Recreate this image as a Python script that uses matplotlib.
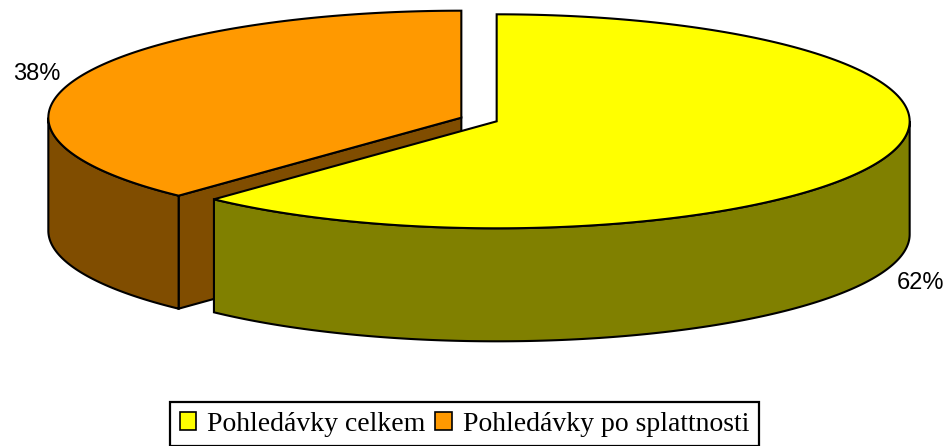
import numpy as np
import matplotlib.pyplot as plt
from matplotlib.patches import Polygon, Patch

# data
labels = ['Pohledávky celkem', 'Pohledávky po splattnosti']
values = [62, 38]
pct_labels = ['62%', '38%']
top_colors = ['#FFFF00', '#FF9900']
side_colors = ['#808000', '#804D00']

# 3D pie geometry (pixel space of the figure)
W, H = 944, 446
CX, CY = 479.0, 119.5
A, B = 413.0, 107.0
DEPTH = 113.0
EXPLODE = 0.046


def pt(cx, cy, theta, r=1.0, dz=0.0):
    # theta in degrees, clockwise from 12 o'clock
    t = np.deg2rad(theta)
    return cx + A * r * np.sin(t), cy - B * r * np.cos(t) + dz


def arc(cx, cy, t1, t2, dz=0.0, n=200):
    th = np.linspace(t1, t2, n)
    x, y = pt(cx, cy, th, dz=dz)
    return np.column_stack([x, y])


fig = plt.figure(figsize=(W / 100, H / 100), dpi=100)
ax = fig.add_axes([0, 0, 1, 1])
ax.set_xlim(0, W)
ax.set_ylim(H, 0)
ax.axis('off')

total = float(sum(values))
starts = np.concatenate([[0], np.cumsum(values)[:-1]]) / total * 360
ends = np.cumsum(values) / total * 360
mids = (starts + ends) / 2

centers = []
for m in mids:
    t = np.deg2rad(m)
    centers.append((CX + EXPLODE * A * np.sin(t), CY - EXPLODE * B * np.cos(t)))

lw = 1.5
# draw back slice (orange) first, then the yellow one in front
for i in [1, 0]:
    cx, cy = centers[i]
    s, e = starts[i], ends[i]
    # radial cut face at the start angle (faces the viewer when on the left)
    if i == 1:
        p0 = (cx, cy)
        p1 = pt(cx, cy, s)
        face = [p0, p1, (p1[0], p1[1] + DEPTH), (cx, cy + DEPTH)]
        ax.add_patch(Polygon(face, closed=True, fc=side_colors[i], ec='black', lw=lw))
    # outer rim, visible part only (front half 90..270)
    v1, v2 = max(s, 90), min(e, 270)
    if v2 > v1:
        top = arc(cx, cy, v1, v2)
        bot = arc(cx, cy, v1, v2, dz=DEPTH)[::-1]
        ax.add_patch(Polygon(np.vstack([top, bot]), closed=True,
                             fc=side_colors[i], ec='black', lw=lw, joinstyle='miter'))
    # top face
    top = np.vstack([[cx, cy], arc(cx, cy, s, e)])
    ax.add_patch(Polygon(top, closed=True, fc=top_colors[i], ec='black', lw=lw))

# percentage labels
for i in range(len(values)):
    cx, cy = centers[i]
    t = np.deg2rad(mids[i])
    r = 1.105
    x = cx + A * r * np.sin(t)
    y = cy - B * r * np.cos(t)
    if np.cos(t) < 0:
        y += DEPTH + 5
    ax.text(x, y, pct_labels[i], fontsize=17, family='Liberation Sans',
            ha='center', va='center')

handles = [Patch(fc=c, ec='black', lw=1.2) for c in top_colors]
leg = ax.legend(handles, labels, loc='upper center', ncol=2,
                bbox_to_anchor=(464.5 / W, 1 - 402 / H), borderaxespad=0,
                prop={'family': 'Liberation Serif', 'size': 20},
                frameon=True, fancybox=False, edgecolor='black', framealpha=1,
                handlelength=0.58, handleheight=0.58, handletextpad=0.4,
                columnspacing=0.36, borderpad=0.35)
leg.get_frame().set_linewidth(1.6)

fig.savefig('out.png', dpi=100)
